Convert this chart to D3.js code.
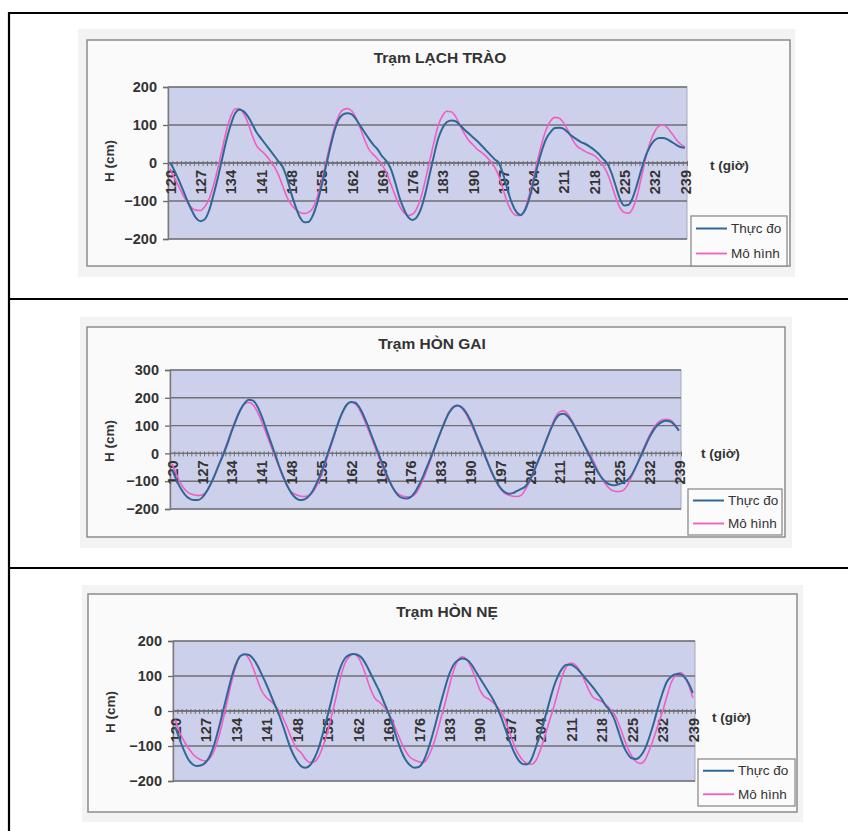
<!DOCTYPE html>
<html><head><meta charset="utf-8">
<script src="https://cdn.jsdelivr.net/npm/d3@7"></script>
<style>body{margin:0;background:#fff;} svg{display:block}</style>
</head><body>
<svg id="c" width="848" height="831"></svg>
<script>
// ---------------- DATA ----------------
const hours = d3.range(120, 240); // categories: t (giờ) 120..239
const xTickLabels = [120,127,134,141,148,155,162,169,176,183,190,197,204,211,218,225,232,239];
const yTicksLT = [200,100,0,-100,-200];
const yTicksHG = [300,200,100,0,-100,-200];
const yTicksHN = [200,100,0,-100,-200];
const seriesNames = ["Thực đo","Mô hình"];
const titles = ["Trạm LẠCH TRÀO","Trạm HÒN GAI","Trạm HÒN NẸ"];

const ltMeasured = [0,-20,-45,-72,-100,-125,-145,-153,-148,-125,-85,-40,10,60,100,130,140,136,122,102,
80,65,50,35,20,5,-10,-40,-80,-115,-143,-156,-155,-138,-105,-60,-10,40,85,115,
128,131,128,115,97,80,63,48,35,18,5,-15,-50,-90,-120,-142,-150,-143,-120,-80,
-30,20,65,93,108,112,110,100,88,78,68,58,46,34,22,10,0,-30,-70,-105,
-128,-137,-125,-95,-50,-5,35,65,82,92,93,90,80,70,62,55,50,43,35,25,
12,0,-25,-60,-95,-112,-110,-90,-55,-15,20,45,60,66,66,62,55,48,42,40];
const ltModel = [-15,-40,-62,-85,-103,-118,-124,-125,-115,-95,-60,-15,35,85,122,142,143,130,105,72,
45,33,22,8,-8,-30,-60,-90,-110,-122,-130,-133,-130,-118,-90,-50,0,50,95,125,
140,143,137,118,90,60,35,22,10,-5,-25,-55,-85,-112,-130,-138,-135,-120,-90,-45,
5,55,100,125,136,135,122,100,78,60,48,36,28,18,5,-10,-35,-70,-105,-128,
-138,-138,-122,-85,-40,10,55,90,112,120,118,105,85,62,45,37,30,25,20,10,
-5,-25,-55,-90,-118,-130,-132,-118,-85,-35,15,55,82,97,100,92,78,62,50,42];

const hgMeasured = [-57,-95,-125,-148,-162,-168,-168,-160,-140,-112,-78,-40,-5,35,80,120,155,180,193,190,
170,135,92,48,5,-40,-80,-115,-143,-160,-168,-166,-155,-135,-105,-70,-25,20,65,110,
148,175,185,182,165,135,98,58,18,-22,-62,-98,-128,-150,-160,-162,-157,-140,-113,-80,
-42,-5,35,75,112,145,165,172,166,148,120,85,47,10,-28,-65,-97,-122,-138,-145,
-143,-135,-128,-118,-95,-62,-25,12,52,90,122,140,143,132,110,82,52,22,-8,-40,
-68,-90,-105,-113,-115,-110,-103,-95,-75,-45,-12,22,55,82,102,113,117,115,102,82];
const hgModel = [-38,-75,-108,-130,-143,-149,-151,-150,-138,-112,-78,-40,0,42,85,125,158,178,183,175,
150,115,75,35,-5,-45,-85,-118,-138,-148,-153,-155,-152,-140,-115,-80,-35,12,60,108,
148,175,184,178,158,125,88,48,8,-32,-70,-102,-128,-145,-153,-156,-156,-148,-125,-92,
-52,-10,32,75,115,148,168,172,163,142,112,78,42,5,-32,-68,-100,-125,-142,-150,
-154,-155,-150,-128,-100,-65,-28,12,55,95,130,150,153,140,115,85,55,25,0,-30,
-62,-92,-115,-130,-136,-137,-132,-112,-80,-45,-8,28,62,90,110,120,123,120,105,82];

const hnMeasured = [-45,-80,-112,-138,-152,-157,-155,-147,-128,-95,-50,0,50,98,135,157,162,160,148,128,
102,75,45,15,-15,-50,-88,-120,-143,-158,-162,-155,-135,-105,-62,-15,35,85,125,150,
160,163,160,150,130,105,80,55,25,-5,-40,-80,-115,-140,-155,-162,-160,-145,-115,-75,
-30,20,65,105,132,145,150,147,135,115,95,75,55,35,10,-20,-55,-90,-120,-142,
-152,-152,-135,-100,-62,-20,25,68,100,122,132,132,125,113,98,83,68,52,35,15,
0,-25,-62,-98,-122,-135,-137,-128,-108,-75,-35,10,50,83,98,105,106,98,80,52];
const hnModel = [-25,-60,-85,-105,-122,-133,-140,-143,-135,-112,-75,-25,30,85,130,158,162,148,120,85,
55,38,28,15,-2,-25,-55,-85,-108,-120,-138,-147,-145,-130,-100,-60,-12,40,95,135,
155,163,155,130,95,60,35,25,12,-5,-30,-60,-90,-115,-132,-140,-145,-147,-135,-108,
-70,-25,20,70,115,145,155,148,125,95,62,42,35,25,12,-5,-30,-65,-100,-125,
-142,-150,-152,-140,-110,-72,-30,10,55,100,128,137,132,115,90,62,40,33,28,18,
5,-10,-38,-72,-105,-130,-145,-150,-140,-112,-78,-40,-3,40,80,102,110,102,75,38];

// ---------------- LAYOUT ----------------
const panels = [
  {title: titles[0], measured: ltMeasured, model: ltModel, yTicks: yTicksLT, yDomain:[-200,200],
   bg:[78,29,795,277], frame:[87,40,790,266], plot:[168,87,687,239], titleXY:[440,58],
   legend:[691,216,787,266], tXY:[710,165], hY:161},
  {title: titles[1], measured: hgMeasured, model: hgModel, yTicks: yTicksHG, yDomain:[-200,300],
   bg:[80,317,792,548], frame:[87,327,785,537], plot:[170,370,681,509], titleXY:[432,344],
   legend:[688,489,782,535], tXY:[701,453], hY:441},
  {title: titles[2], measured: hnMeasured, model: hnModel, yTicks: yTicksHN, yDomain:[-200,200],
   bg:[82,585,803,822], frame:[88,594,797,812], plot:[173,641,695,781], titleXY:[447,612],
   legend:[698,759,795,806], tXY:[712,717], hY:712}
];
const colMeasured = "#2f6896", colModel = "#f05ec4";
const font = "'Liberation Sans', Arial, sans-serif";

const svg = d3.select("#c");

// table borders
const tg = svg.append("g").attr("stroke","#000").attr("stroke-width",2.2);
tg.append("line").attr("x1",9).attr("x2",9).attr("y1",12).attr("y2",831);
[13,299,568].forEach(yy => tg.append("line").attr("x1",8).attr("x2",848).attr("y1",yy).attr("y2",yy));

panels.forEach(p => {
  const g = svg.append("g");
  g.append("rect").attr("x",p.bg[0]).attr("y",p.bg[1]).attr("width",p.bg[2]-p.bg[0]).attr("height",p.bg[3]-p.bg[1]).attr("fill","#f3f3f3");
  g.append("rect").attr("x",p.frame[0]).attr("y",p.frame[1]).attr("width",p.frame[2]-p.frame[0]).attr("height",p.frame[3]-p.frame[1])
    .attr("fill","#fafafa").attr("stroke","#8c8c8c").attr("stroke-width",1.5);

  const [L,T,R,B] = p.plot;
  const x = d3.scaleLinear().domain([hours[0]-0.5, hours[hours.length-1]+0.5]).range([L,R]);
  const y = d3.scaleLinear().domain(p.yDomain).range([B,T]);

  g.append("rect").attr("x",L).attr("y",T).attr("width",R-L).attr("height",B-T).attr("fill","#cdd0ea")
    .attr("stroke","#a8a8b8").attr("stroke-width",1);

  // gridlines
  g.append("g").selectAll("line").data(p.yTicks).join("line")
    .attr("x1",L).attr("x2",R).attr("y1",d=>y(d)).attr("y2",d=>y(d))
    .attr("stroke","#6f6f74").attr("stroke-width",1.4);

  // y axis
  const ya = g.append("g").attr("transform",`translate(${L},0)`)
    .call(d3.axisLeft(y).tickValues(p.yTicks).tickSize(5).tickPadding(6).tickFormat(d3.format("d")));
  ya.select(".domain").attr("stroke","#7a7a7a").attr("stroke-width",1.4);
  ya.selectAll(".tick line").attr("stroke","#6a6a6a").attr("stroke-width",1.3);
  ya.selectAll("text").attr("font-family",font).attr("font-weight","bold").attr("font-size",14.5).attr("fill","#333");

  // x axis at y=0 with minor ticks at every category boundary
  const bounds = hours.map(h => h-0.5).concat([hours[hours.length-1]+0.5]);
  const xa = g.append("g").attr("transform",`translate(0,${y(0)-2})`)
    .call(d3.axisBottom(x).tickValues(bounds).tickSize(5).tickFormat(""));
  xa.select(".domain").remove();
  xa.selectAll(".tick line").attr("stroke","#666").attr("stroke-width",0.9);
  g.append("line").attr("x1",L).attr("x2",R).attr("y1",y(0)).attr("y2",y(0)).attr("stroke","#6f6f74").attr("stroke-width",1.4);

  const xl = g.append("g").attr("transform",`translate(0,${y(0)})`)
    .call(d3.axisBottom(x).tickValues(xTickLabels).tickSize(0).tickFormat(d3.format("d")));
  xl.select(".domain").remove();
  xl.selectAll("text").attr("transform","rotate(-90)").attr("text-anchor","end")
    .attr("x",-7).attr("y",0).attr("dy","0.36em")
    .attr("font-family",font).attr("font-weight","bold").attr("font-size",14.5).attr("fill","#333");

  // lines
  const line = d3.line().x((d,i)=>x(hours[i])).y(d=>y(d)).curve(d3.curveMonotoneX);
  g.append("path").datum(p.model).attr("d",line).attr("fill","none").attr("stroke",colModel).attr("stroke-width",1.6);
  g.append("path").datum(p.measured).attr("d",line).attr("fill","none").attr("stroke",colMeasured).attr("stroke-width",2);

  // title
  g.append("text").attr("x",p.titleXY[0]).attr("y",p.titleXY[1]).attr("dy","0.35em").attr("text-anchor","middle")
    .attr("font-family",font).attr("font-weight","bold").attr("font-size",15.5).attr("fill","#333").text(p.title);
  // axis titles
  g.append("text").attr("transform",`translate(${p.frame[0]+22},${p.hY}) rotate(-90)`).attr("dy","0.35em")
    .attr("text-anchor","middle").attr("font-family",font).attr("font-weight","bold").attr("font-size",13.5).attr("fill","#333").text("H (cm)");
  g.append("text").attr("x",p.tXY[0]).attr("y",p.tXY[1]).attr("dy","0.35em")
    .attr("font-family",font).attr("font-weight","bold").attr("font-size",13.5).attr("fill","#333").text("t (giờ)");

  // legend
  const [lx0,ly0,lx1,ly1] = p.legend;
  const lg = g.append("g");
  lg.append("rect").attr("x",lx0).attr("y",ly0).attr("width",lx1-lx0).attr("height",ly1-ly0)
    .attr("fill","#fbfbfb").attr("stroke","#8c8c8c").attr("stroke-width",1.3);
  const rowH = (ly1-ly0)/2;
  [[seriesNames[0],colMeasured,2],[seriesNames[1],colModel,1.8]].forEach((s,i) => {
    const cy = ly0 + rowH*(i+0.5);
    lg.append("line").attr("x1",lx0+5).attr("x2",lx0+36).attr("y1",cy).attr("y2",cy).attr("stroke",s[1]).attr("stroke-width",s[2]);
    lg.append("text").attr("x",lx0+40).attr("y",cy).attr("dy","0.35em").attr("font-family",font)
      .attr("font-size",13.5).attr("fill","#333").text(s[0]);
  });
});
</script>
</body></html>
